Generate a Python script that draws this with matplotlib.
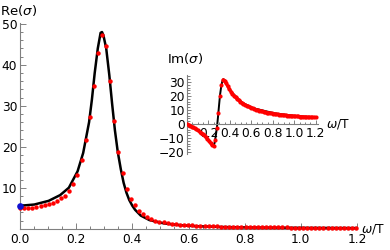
import matplotlib
matplotlib.use("Agg")
import matplotlib.pyplot as plt
from matplotlib.ticker import MultipleLocator, FixedLocator

plt.rcParams['font.family'] = ['DejaVu Sans']
plt.rcParams['mathtext.fontset'] = 'dejavusans'

# sampled frequencies of the red points (omega / T)
omega_pts = [0.000, 0.015, 0.029, 0.044, 0.058, 0.073, 0.088, 0.102, 0.117, 0.131,
             0.146, 0.161, 0.175, 0.190, 0.204, 0.219, 0.234, 0.248, 0.263, 0.277,
             0.292, 0.307, 0.321, 0.336, 0.350, 0.365, 0.380, 0.394, 0.409, 0.423,
             0.438, 0.453, 0.467, 0.482, 0.496, 0.511, 0.526, 0.540, 0.555, 0.569,
             0.584, 0.599, 0.613, 0.628, 0.642, 0.657, 0.672, 0.686, 0.701, 0.715,
             0.730, 0.745, 0.759, 0.774, 0.788, 0.803, 0.818, 0.832, 0.847, 0.861,
             0.876, 0.891, 0.905, 0.920, 0.934, 0.949, 0.964, 0.978, 0.993, 1.007,
             1.022, 1.037, 1.051, 1.066, 1.080, 1.095, 1.110, 1.124, 1.139, 1.153,
             1.168, 1.183, 1.197]

re_pts = [5.0, 5.0, 5.05, 5.1, 5.3, 5.5, 5.7, 6.0, 6.3, 6.8,
          7.4, 8.1, 9.2, 10.8, 13.2, 16.8, 21.6, 27.3, 34.8, 42.8,
          47.3, 44.6, 36.0, 26.3, 18.8, 13.5, 9.8, 7.3, 5.7, 4.4,
          3.5, 2.9, 2.4, 2.0, 1.75, 1.55, 1.38, 1.23, 1.1, 1.0,
          0.92, 0.85, 0.79, 0.74, 0.69, 0.65, 0.61, 0.58, 0.55, 0.52,
          0.5, 0.48, 0.46, 0.44, 0.42, 0.41, 0.39, 0.38, 0.37, 0.36,
          0.35, 0.34, 0.33, 0.32, 0.31, 0.30, 0.29, 0.29, 0.28, 0.28,
          0.27, 0.27, 0.26, 0.26, 0.25, 0.25, 0.24, 0.24, 0.24, 0.23,
          0.23, 0.22, 0.22]

im_pts = [0, -0.6, -1.2, -1.8, -2.5, -3.2, -3.9, -4.6, -5.4, -6.2,
          -7.1, -8.1, -9.2, -10.5, -12.0, -13.6, -15.0, -15.5, -11.5, -3.0,
          8.0, 20.0, 28.0, 31.5, 31.0, 29.0, 27.0, 25.0, 23.2, 21.6,
          20.2, 19.0, 17.9, 16.9, 16.0, 15.2, 14.5, 13.8, 13.2, 12.6,
          12.1, 11.6, 11.1, 10.7, 10.3, 9.95, 9.6, 9.3, 9.0, 8.7,
          8.45, 8.2, 7.95, 7.75, 7.55, 7.35, 7.15, 7.0, 6.85, 6.7,
          6.55, 6.4, 6.3, 6.15, 6.05, 5.95, 5.85, 5.75, 5.65, 5.55,
          5.45, 5.38, 5.3, 5.22, 5.15, 5.08, 5.0, 4.94, 4.88, 4.82,
          4.76, 4.7, 4.65]

# black curve, Re(sigma)
omega_re_line = [0.0, 0.051, 0.102, 0.143, 0.174, 0.205, 0.225, 0.246, 0.256, 0.266,
                 0.277, 0.287, 0.292, 0.297, 0.307, 0.318, 0.328, 0.338, 0.348, 0.359,
                 0.369, 0.379, 0.389, 0.400, 0.410, 0.430, 0.461, 0.512, 0.564, 0.615,
                 0.717, 0.820, 0.922, 1.025, 1.2]
re_line = [5.6, 5.9, 6.8, 8.2, 10.0, 14.0, 18.5, 26.0, 31.5, 38.0,
           44.0, 47.8, 48.0, 47.2, 44.0, 37.5, 30.5, 24.0, 18.8, 14.5,
           11.2, 8.8, 7.0, 5.6, 4.6, 3.2, 2.1, 1.3, 0.9, 0.65,
           0.42, 0.3, 0.24, 0.2, 0.15]

# black curve, Im(sigma)
omega_im_line = [0.0, 0.103, 0.206, 0.236, 0.247, 0.257, 0.267, 0.278, 0.288, 0.298,
                 0.308, 0.319, 0.329, 0.339, 0.350, 0.370, 0.411, 0.514, 0.617, 0.822,
                 1.028, 1.2]
im_line = [0, -4.6, -12.0, -15.2, -15.6, -13.5, -9.0, -3.0, 4.5, 13.0,
           21.0, 27.0, 30.5, 32.0, 31.3, 28.5, 23.0, 15.2, 11.3, 7.5,
           5.55, 4.6]

dc_omega = [0.0]
dc_value = [5.6]

W, H = 390, 250
fig = plt.figure(figsize=(3.9, 2.5), dpi=100)

axcol = '#808080'
fs = 8.8
lfs = 9.6

def fx(px):
    return px / W

def fy(py):
    return 1 - py / H

# main axes
left, right, top, bottom = 20, 357, 23, 228.7
ax = fig.add_axes([fx(left), fy(bottom), (right - left) / W, (bottom - top) / H])
ax.plot(omega_re_line, re_line, color='black', lw=1.8, zorder=2)
ax.plot(omega_pts, re_pts, 'o', color='red', ms=3.2, mec='none', zorder=3, clip_on=False)
ax.plot(dc_omega, dc_value, 'o', color='#1010d0', ms=4.8, mec='none', zorder=4, clip_on=False)
ax.set_xlim(0, 1.2)
ax.set_ylim(0, 50.2)
for s in ['top', 'right']:
    ax.spines[s].set_visible(False)
for s in ['left', 'bottom']:
    ax.spines[s].set_color(axcol)
    ax.spines[s].set_linewidth(0.8)
ax.set_xticks([0.0, 0.2, 0.4, 0.6, 0.8, 1.0, 1.2])
ax.set_xticklabels(['0.0', '0.2', '0.4', '0.6', '0.8', '1.0', '1.2'])
ax.xaxis.set_minor_locator(MultipleLocator(0.05))
ax.yaxis.set_major_locator(FixedLocator([10, 20, 30, 40, 50]))
ax.yaxis.set_minor_locator(MultipleLocator(2))
ax.tick_params(which='both', direction='in', color=axcol, labelsize=fs, width=0.7)
ax.tick_params(which='major', length=4, pad=3)
ax.tick_params(which='minor', length=2.2)
ax.tick_params(axis='y', pad=2)
ax.patch.set_alpha(0)

fig.text(fx(0), fy(11), 'Re($\\sigma$)', fontsize=lfs, va='center', ha='left')
fig.text(fx(361), fy(229), '$\\omega$/T', fontsize=fs, va='center', ha='left')

# inset
ileft, iright = 187, 318
ymin, ymax = -21.5, 35
zero_py, per10 = 124, 14.0
itop = zero_py - ymax * per10 / 10
ibot = zero_py - ymin * per10 / 10
ax2 = fig.add_axes([fx(ileft), fy(ibot), (iright - ileft) / W, (ibot - itop) / H])
ax2.plot(omega_im_line, im_line, color='black', lw=1.4, zorder=2)
# dense red samples: connect the gently varying parts, leave the steep rise as dots
ax2.plot(omega_pts[:18], im_pts[:18], color='red', lw=2.3, solid_capstyle='round', zorder=3)
ax2.plot(omega_pts[23:], im_pts[23:], color='red', lw=2.3, solid_capstyle='round', zorder=3)
ax2.plot(omega_pts, im_pts, 'o', color='red', ms=3.0, mec='none', zorder=3)
ax2.set_xlim(0, 1.22)
ax2.set_ylim(ymin, ymax)
for s in ['top', 'right']:
    ax2.spines[s].set_visible(False)
ax2.spines['bottom'].set_position(('data', 0))
for s in ['left', 'bottom']:
    ax2.spines[s].set_color(axcol)
    ax2.spines[s].set_linewidth(0.8)
ax2.set_xticks([0.2, 0.4, 0.6, 0.8, 1.0, 1.2])
ax2.set_xticklabels(['0.2', '0.4', '0.6', '0.8', '1.0', '1.2'])
ax2.xaxis.set_minor_locator(MultipleLocator(0.05))
ax2.set_yticks([-20, -10, 0, 10, 20, 30])
ax2.yaxis.set_minor_locator(MultipleLocator(2))
ax2.tick_params(which='both', direction='in', color=axcol, labelsize=fs, width=0.7)
ax2.tick_params(which='major', length=3, pad=2.5)
ax2.tick_params(which='minor', length=1.8)
ax2.tick_params(axis='y', pad=1.5)
ax2.patch.set_alpha(0)

fig.text(fx(167), fy(59), 'Im($\\sigma$)', fontsize=lfs, va='center', ha='left')
fig.text(fx(326), fy(124), '$\\omega$/T', fontsize=fs, va='center', ha='left')

fig.savefig('out.png', dpi=100)
